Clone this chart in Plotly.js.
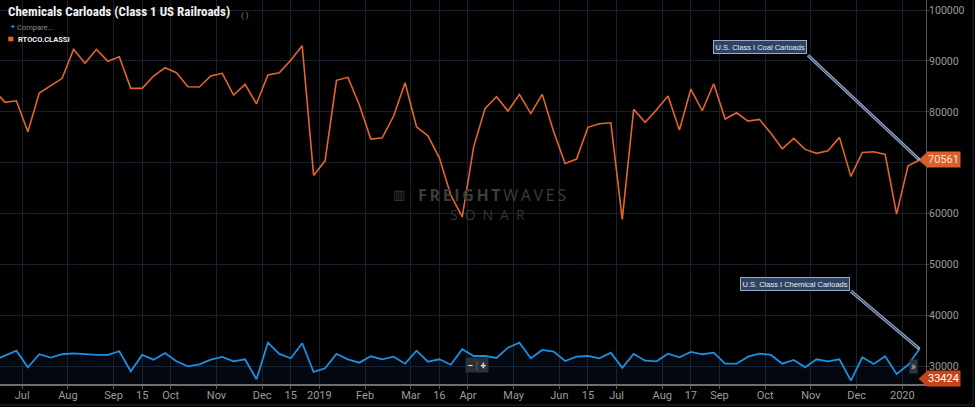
<!DOCTYPE html>
<html>
<head>
<meta charset="utf-8">
<script src="https://cdn.plot.ly/plotly-3.0.1.min.js"></script>
<style>
  html, body { margin: 0; padding: 0; background: #000; }
  #chart { width: 975px; height: 407px; }
</style>
</head>
<body>
<div id="chart"></div>
<script>
// ---------- DATA ----------
const firstWeek = '2018-06-16';   // weekly observations (Saturdays)
const coalCarloads = [
  84400, 81870, 82180, 76090, 83700, 85070, 86590, 92280, 89530, 92280,
  89930, 90830, 84620, 84620, 87040, 88670, 87690, 84930, 84880, 87040,
  87570, 83300, 85410, 81590, 87230, 87690, 90120, 92990, 67520, 70390,
  86190, 86780, 81340, 74660, 74910, 79180, 85720, 77070, 75310, 70980,
  63650, 59390, 73140, 80690, 82970, 80160, 83440, 79710, 83440, 76090,
  69880, 70730, 76960, 77660, 77860, 58880, 80490, 77940, 80400, 83110,
  76430, 84480, 80220, 85520, 78590, 79830, 78190, 78530, 75780, 72750,
  74800, 72630, 71850, 72360, 74990, 67330, 72040, 72160, 71650, 59920,
  69410, 70561
];
const chemicalCarloads = [
  31200, 32140, 33100, 29840, 32400, 31730, 32400, 32590, 32400, 32260,
  32260, 32990, 29060, 32260, 31340, 32650, 31020, 30040, 30430, 31340,
  31870, 31020, 31410, 27490, 34680, 32460, 31610, 34560, 28920, 29650,
  32460, 31410, 30750, 32000, 31410, 31930, 30550, 33100, 30940, 31410,
  30350, 33380, 32060, 32060, 31670, 33690, 34680, 31610, 33240, 32910,
  31080, 31930, 32060, 31610, 32710, 29760, 32460, 31140, 31020, 32520,
  31810, 32850, 32400, 32710, 30550, 30550, 31930, 32520, 32260, 30550,
  31280, 29840, 31410, 31020, 31410, 27210, 31810, 30490, 32000, 28530,
  30300, 33424
];
const tickDates = [
  '2018-07-03 12:00', '2018-07-31 12:00', '2018-08-28 12:00', '2018-09-15',
  '2018-10-02 12:00', '2018-10-30 12:00', '2018-11-27 12:00', '2018-12-15',
  '2019-01-01 12:00', '2019-01-29 12:00', '2019-02-26 12:00', '2019-03-16',
  '2019-04-02 12:00', '2019-04-30 12:00', '2019-05-28 12:00', '2019-06-15',
  '2019-07-02 12:00', '2019-07-30 12:00', '2019-08-17', '2019-09-03 12:00',
  '2019-10-01 12:00', '2019-10-29 12:00', '2019-11-26 12:00', '2019-12-24 12:00'
];
const tickLabels = [
  'Jul', 'Aug', 'Sep', '15', 'Oct', 'Nov', 'Dec', '15', '2019', 'Feb', 'Mar', '16',
  'Apr', 'May', 'Jun', '15', 'Jul', 'Aug', '17', 'Sep', 'Oct', 'Nov', 'Dec', '2020'
];
const titleText = 'Chemicals Carloads (Class 1 US Railroads)';
const seriesCode = 'RTOCO.CLASSI';
const compareText = 'Compare...';
const coalLabel = 'U.S. Class I Coal Carloads';
const chemLabel = 'U.S. Class I Chemical Carloads';

// ---------- BUILD ----------
function weeklyDates(start, n) {
  const out = [];
  const d0 = new Date(start + 'T00:00:00Z');
  for (let i = 0; i < n; i++) {
    const d = new Date(d0.getTime() + i * 7 * 86400000);
    out.push(d.toISOString().slice(0, 10));
  }
  return out;
}
const dates = weeklyDates(firstWeek, coalCarloads.length);
const last = dates.length - 1;
const lastCoal = coalCarloads[last];
const lastChem = chemicalCarloads[last];

const PW = 926, PH = 384;
const px = x => x / PW;
const py = y => 1 - y / PH;

const ORANGE = '#e4652b';
const BLUE = '#1b8fe2';
const GRID = '#18212b';

const traces = [
  {
    x: dates, y: chemicalCarloads, type: 'scatter', mode: 'lines',
    line: { color: BLUE, width: 1.8 },
    fill: 'tozeroy', fillcolor: 'rgba(30,60,110,0.13)',
    hoverinfo: 'skip'
  },
  {
    x: dates, y: coalCarloads, type: 'scatter', mode: 'lines',
    line: { color: ORANGE, width: 1.6 },
    hoverinfo: 'skip'
  }
];

const font = 'Roboto, "Liberation Sans", Arial, sans-serif';
const arial = '"Liberation Sans", Arial, sans-serif';

const annotations = [
  // header bits
  { xref: 'paper', yref: 'paper', x: px(245), y: py(16), text: '( )', showarrow: false,
    font: { family: font, size: 8, color: '#8a8a8a' }, xanchor: 'center', yanchor: 'middle' },
  { xref: 'paper', yref: 'paper', x: px(7.5), y: py(26.8), text: '\u2726', showarrow: false,
    font: { family: '"DejaVu Sans"', size: 7, color: BLUE }, xanchor: 'left', yanchor: 'middle' },
  { xref: 'paper', yref: 'paper', x: px(15), y: py(27.8), text: compareText, showarrow: false,
    font: { family: font, size: 7.5, color: '#8c8c8c' }, xanchor: 'left', yanchor: 'middle' },
  { xref: 'paper', yref: 'paper', x: px(15.5), y: py(39), text: '<b>' + seriesCode + '</b>', showarrow: false,
    font: { family: font, size: 7.5, color: '#f0f0f0' }, xanchor: 'left', yanchor: 'middle' },

  // watermark
  { xref: 'paper', yref: 'paper', x: px(391), y: py(194), text: '\u25A5', showarrow: false,
    font: { family: '"DejaVu Sans"', size: 13, color: '#3a3a3a' }, xanchor: 'left', yanchor: 'middle' },
  { xref: 'paper', yref: 'paper', x: px(492), y: py(194.5),
    text: '<b>F\u2009R\u2009E\u2009I\u2009G\u2009H\u2009T</b>\u2009W\u2009A\u2009V\u2009E\u2009S', showarrow: false,
    font: { family: '"Open Sans", Arial, sans-serif', size: 16, color: '#3d3d3d' }, xanchor: 'center', yanchor: 'middle' },
  { xref: 'paper', yref: 'paper', x: px(487), y: py(214),
    text: 'S\u2002O\u2002N\u2002A\u2002R', showarrow: false,
    font: { family: '"Open Sans", Arial, sans-serif', size: 14, color: '#363636' }, xanchor: 'center', yanchor: 'middle' },

  // callout arrows (outer light, inner dark)
  { xref: 'x', yref: 'y', x: dates[last], y: lastCoal, ax: -113, ay: -106, text: '',
    showarrow: true, arrowhead: 0, arrowwidth: 3.2, arrowcolor: '#9aabc4', standoff: 0 },
  { xref: 'x', yref: 'y', x: dates[last], y: lastCoal, ax: -113, ay: -106, text: '',
    showarrow: true, arrowhead: 0, arrowwidth: 1.2, arrowcolor: '#3a5075', standoff: 2 },
  { xref: 'x', yref: 'y', x: dates[last], y: lastChem, ax: -70, ay: -59, text: '',
    showarrow: true, arrowhead: 0, arrowwidth: 3.2, arrowcolor: '#9aabc4', standoff: 0 },
  { xref: 'x', yref: 'y', x: dates[last], y: lastChem, ax: -70, ay: -59, text: '',
    showarrow: true, arrowhead: 0, arrowwidth: 1.2, arrowcolor: '#3a5075', standoff: 2 },

  // callout boxes
  { xref: 'paper', yref: 'paper', x: px(760), y: py(47), text: coalLabel, showarrow: false,
    font: { family: arial, size: 7.5, color: '#e6ebf2' }, bgcolor: '#2e4364', bordercolor: '#9aabc4',
    borderwidth: 1, borderpad: 1.5, xanchor: 'center', yanchor: 'middle' },
  { xref: 'paper', yref: 'paper', x: px(795), y: py(283.5), text: chemLabel, showarrow: false,
    font: { family: arial, size: 7.5, color: '#e6ebf2' }, bgcolor: '#2e4364', bordercolor: '#9aabc4',
    borderwidth: 1, borderpad: 1.5, xanchor: 'center', yanchor: 'middle' },

  // last-value labels on the axis
  { xref: 'paper', yref: 'y', x: 1, y: lastCoal, text: String(lastCoal), showarrow: false,
    font: { family: font, size: 11, color: '#ffe0c8' }, bgcolor: '#d8602a', borderpad: 1,
    xanchor: 'left', yanchor: 'middle' },
  { xref: 'paper', yref: 'paper', x: 1, y: py(378.7), text: String(lastChem), showarrow: false,
    font: { family: font, size: 11, color: '#ffffff' }, bgcolor: '#c9441b', borderpad: 1,
    xanchor: 'left', yanchor: 'middle' },

  // navigator controls
  { xref: 'paper', yref: 'paper', x: px(477), y: py(364.5),
    text: '<b>\u2212</b> <span style="color:#666">|</span> <b>+</b>', showarrow: false,
    font: { family: font, size: 10, color: '#e0e0e0' }, bgcolor: '#2b3038', borderpad: 1.5,
    xanchor: 'center', yanchor: 'middle' },
  { xref: 'paper', yref: 'paper', x: px(913.5), y: py(366), text: '\u00BB', showarrow: false,
    font: { family: font, size: 10, color: '#c8c8c8' }, bgcolor: '#30363e', borderpad: 1,
    xanchor: 'center', yanchor: 'middle' }
];

const shapes = [
  // legend square
  { type: 'rect', xref: 'paper', yref: 'paper', x0: px(8.3), x1: px(13.3), y0: py(41.3), y1: py(36.7),
    fillcolor: ORANGE, line: { width: 0 } },
  // pointer triangles for last-value labels
  { type: 'path', xref: 'paper', yref: 'y',
    path: 'M ' + px(926.5) + ' ' + (lastCoal + 1400) + ' L ' + px(918.5) + ' ' + lastCoal +
          ' L ' + px(926.5) + ' ' + (lastCoal - 1400) + ' Z',
    fillcolor: '#d8602a', line: { width: 0 } },
  { type: 'path', xref: 'paper', yref: 'paper',
    path: 'M ' + px(926.5) + ' ' + py(371.5) + ' L ' + px(918.5) + ' ' + py(378.7) +
          ' L ' + px(926.5) + ' ' + py(386) + ' Z',
    fillcolor: '#c9441b', line: { width: 0 } },
  // outer frame lines
  { type: 'line', xref: 'paper', yref: 'paper', x0: 0, x1: px(973), y0: py(405), y1: py(405),
    line: { color: '#161c24', width: 1.5 } },
  { type: 'line', xref: 'paper', yref: 'paper', x0: px(973), x1: px(973), y0: py(0), y1: py(405),
    line: { color: '#161c24', width: 1.5 } }
];

const layout = {
  width: 975, height: 407,
  margin: { l: 0, r: 975 - PW, t: 0, b: 407 - PH, pad: 0 },
  paper_bgcolor: '#000', plot_bgcolor: '#000',
  showlegend: false,
  hovermode: false,
  font: { family: font, color: '#9a9a9a' },
  title: {
    text: titleText,
    xref: 'container', yref: 'container',
    x: 8 / 975, y: 1 - 11.5 / 407, xanchor: 'left', yanchor: 'middle',
    font: { family: '"Liberation Sans Narrow", "Roboto Condensed", Roboto, sans-serif', size: 13, weight: 700, color: '#f2f2f2' }
  },
  xaxis: {
    type: 'date',
    range: ['2018-06-19 22:30', '2020-01-08 00:00'],
    tickmode: 'array', tickvals: tickDates, ticktext: tickLabels,
    showgrid: true, gridcolor: GRID, gridwidth: 1,
    showline: true, linecolor: '#6e6e6e', linewidth: 1.5,
    ticks: 'outside', ticklen: 3, tickcolor: '#5a5a5a', tickwidth: 1,
    ticklabelstandoff: -3,
    tickfont: { family: font, size: 11, color: '#9c9c9c' },
    zeroline: false, fixedrange: true
  },
  yaxis: {
    side: 'right',
    range: [26560, 101970],
    tickmode: 'linear', tick0: 0, dtick: 10000, tickformat: 'd',
    showgrid: true, gridcolor: GRID, gridwidth: 1,
    showline: true, linecolor: '#555', linewidth: 1,
    ticks: 'outside', ticklen: 2, tickcolor: '#444',
    ticklabelstandoff: -2,
    tickfont: { family: font, size: 10.5, color: '#9c9c9c' },
    zeroline: false, fixedrange: true
  },
  annotations: annotations,
  shapes: shapes
};

Plotly.newPlot('chart', traces, layout, { staticPlot: true, displayModeBar: false });
</script>
</body>
</html>
